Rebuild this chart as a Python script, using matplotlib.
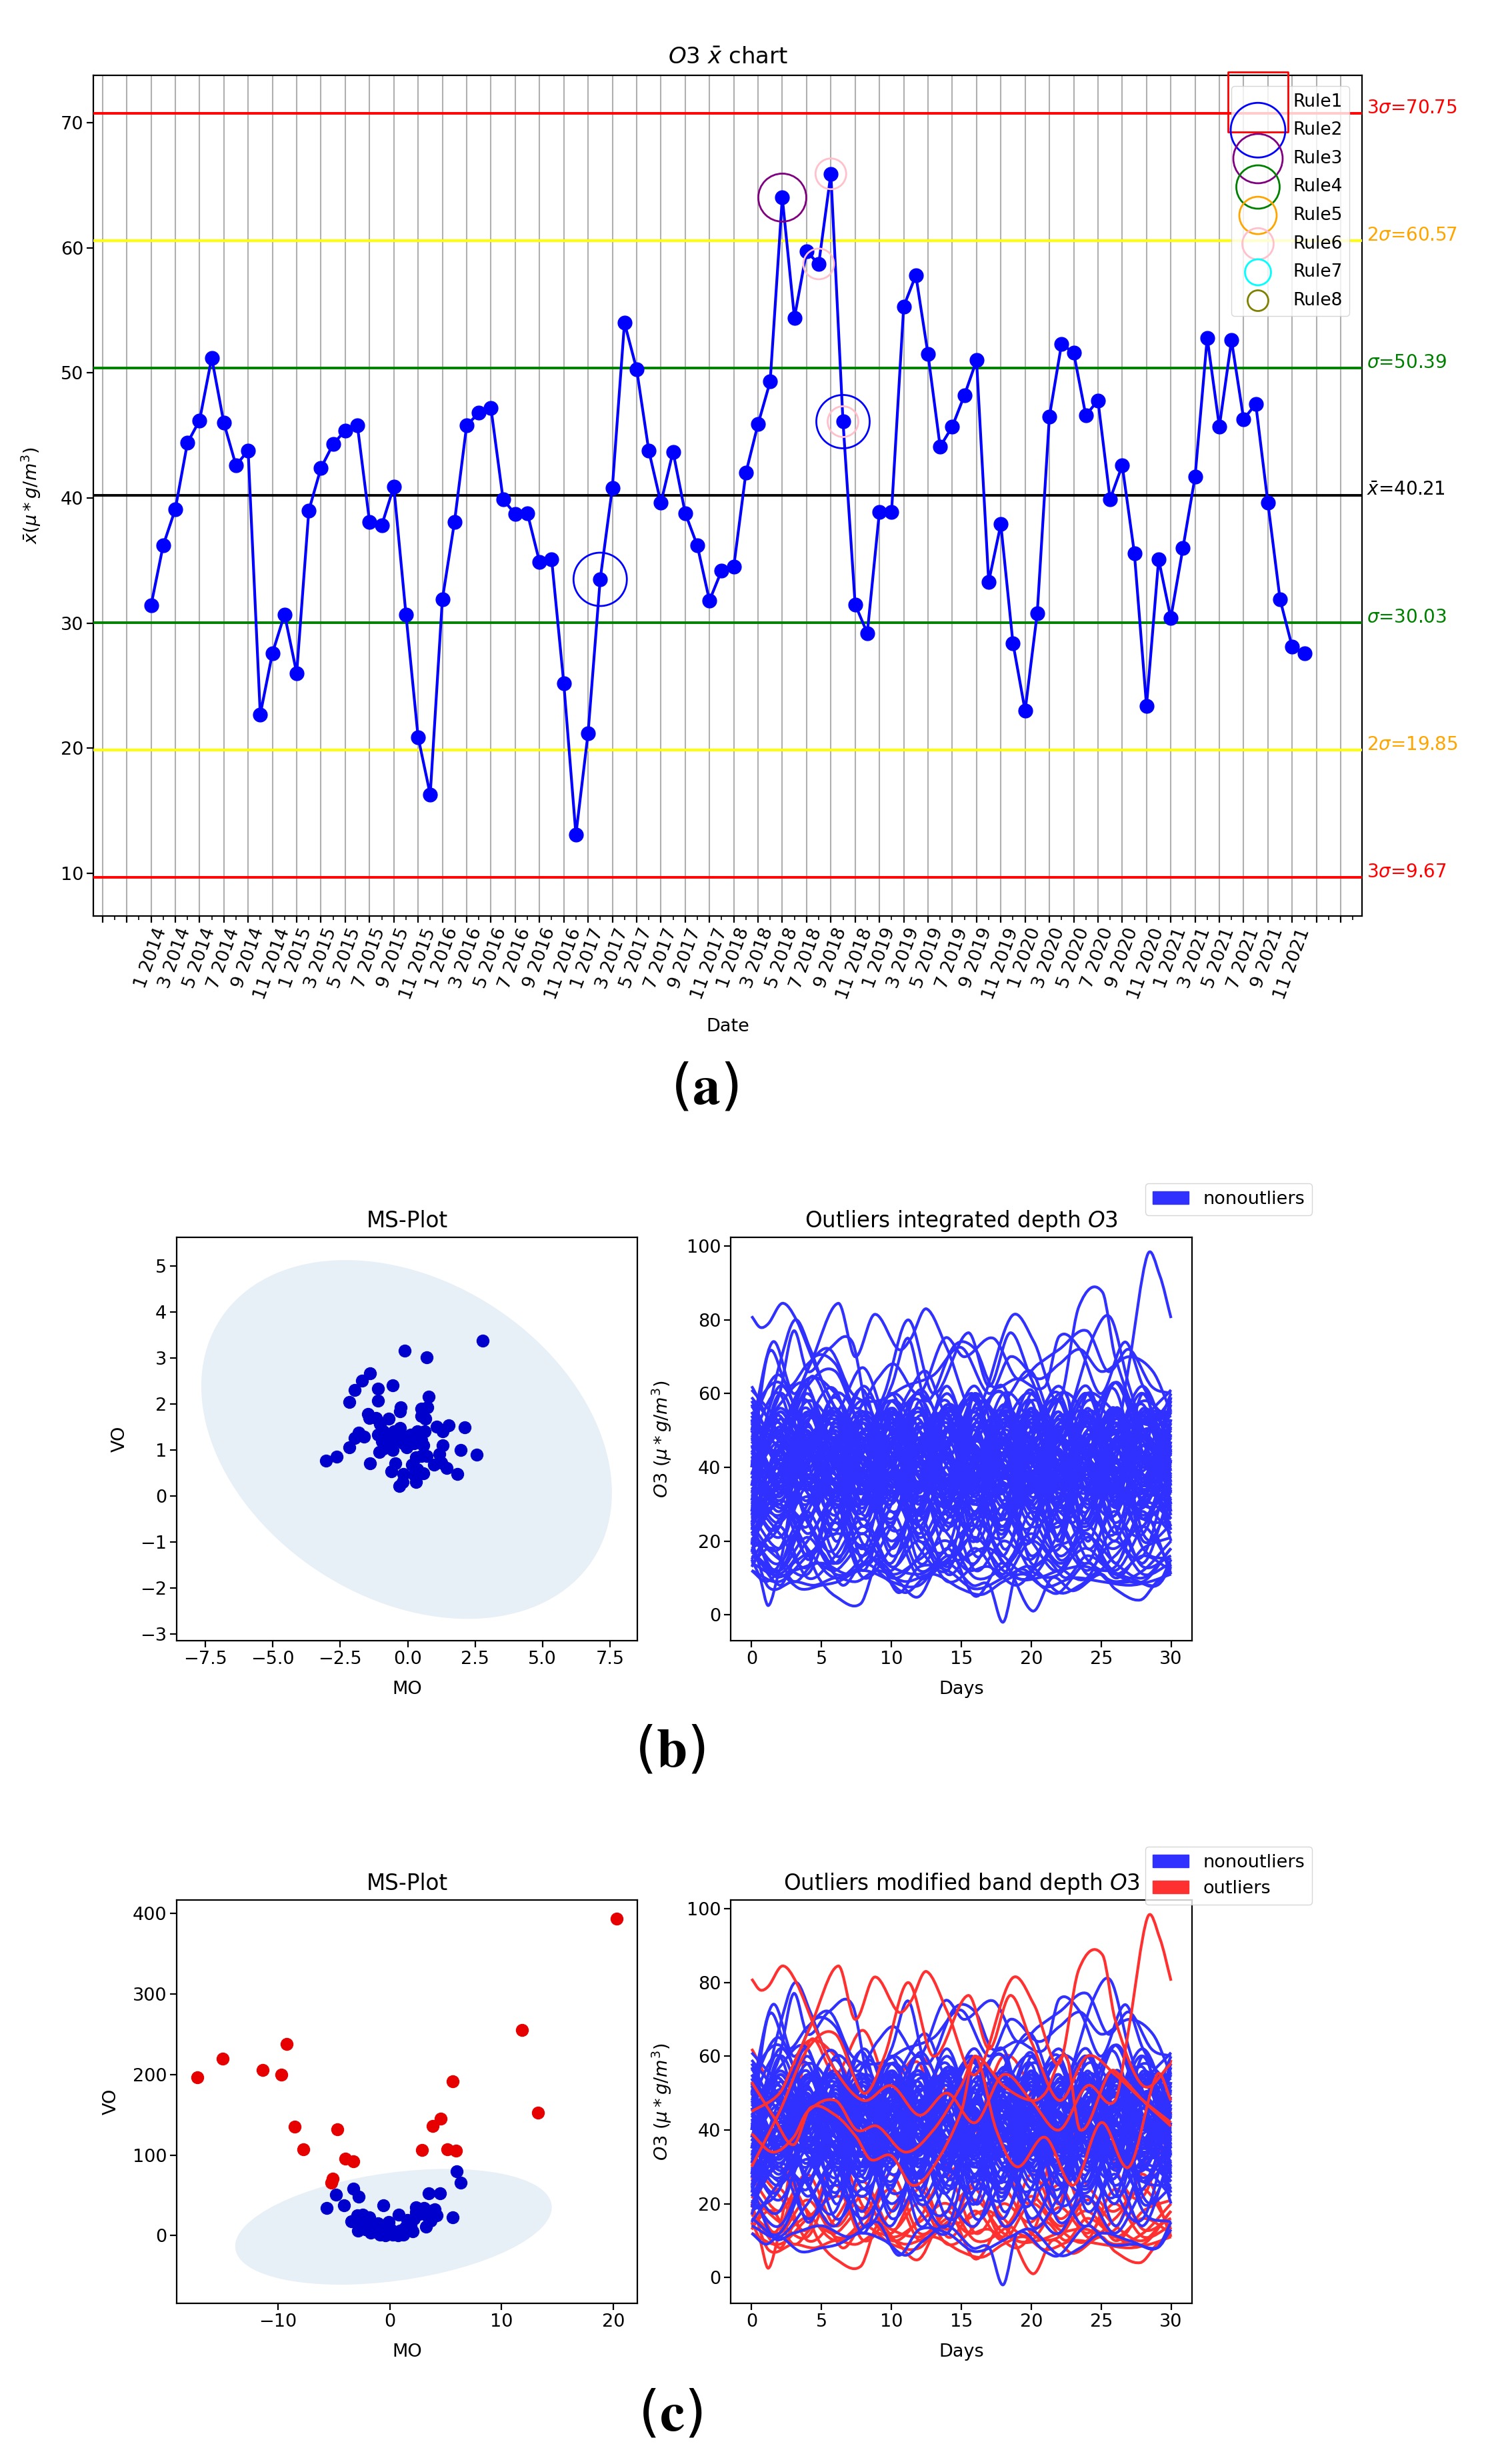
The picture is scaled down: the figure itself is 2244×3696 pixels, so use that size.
import matplotlib
matplotlib.use("Agg")
import matplotlib.pyplot as plt
from matplotlib.patches import Ellipse, Patch, PathPatch
from matplotlib.path import Path

W, H = 2244, 3696

# panel (a): monthly means
xbar_values = [31.4, 36.2, 39.1, 44.4, 46.2, 51.2, 46.0, 42.6, 43.8, 22.7, 27.6, 30.7,
               26.0, 39.0, 42.4, 44.3, 45.4, 45.8, 38.1, 37.8, 40.9, 30.7, 20.9, 16.3,
               31.9, 38.1, 45.8, 46.8, 47.2, 39.9, 38.7, 38.8, 34.9, 35.1, 25.2, 13.1,
               21.2, 33.5, 40.8, 54.0, 50.3, 43.8, 39.6, 43.7, 38.8, 36.2, 31.8, 34.2,
               34.5, 42.0, 45.9, 49.3, 64.0, 54.4, 59.7, 58.7, 65.9, 46.1, 31.5, 29.2,
               38.9, 38.9, 55.3, 57.8, 51.5, 44.1, 45.7, 48.2, 51.0, 33.3, 37.9, 28.4,
               23.0, 30.8, 46.5, 52.3, 51.6, 46.6, 47.8, 39.9, 42.6, 35.6, 23.4, 35.1,
               30.4, 36.0, 41.7, 52.8, 45.7, 52.6, 46.3, 47.5, 39.6, 31.9, 28.1, 27.6]
limit_values = [70.75, 60.57, 50.39, 40.21, 30.03, 19.85, 9.67]
limit_colors = ["red", "yellow", "green", "black", "green", "yellow", "red"]
limit_text = [r"3$\sigma$=70.75", r"2$\sigma$=60.57", r"$\sigma$=50.39", r"$\bar{x}$=40.21",
              r"$\sigma$=30.03", r"2$\sigma$=19.85", r"3$\sigma$=9.67"]
limit_text_colors = ["red", "orange", "green", "black", "green", "orange", "red"]
rule_names = ["Rule1", "Rule2", "Rule3", "Rule4", "Rule5", "Rule6", "Rule7", "Rule8"]
rule_colors = ["red", "blue", "purple", "green", "orange", "pink", "cyan", "olive"]
rule_sizes = [90, 82, 74, 65, 56, 47, 39, 31]
rule_hits = {1: [37, 57], 2: [52], 5: [55, 56, 57]}

# panel (b): MS-plot
ms_b_x = [2.79, -0.12, 0.70, -1.39, -1.69, -1.97, -1.10, -0.56, -1.11, -2.17, 0.79, -0.25, -0.29,
          0.51, 0.74, -1.46, -1.43, -1.17, -0.70, 0.51, 0.66, -1.03, 1.08, 1.53, 2.12, 1.31,
          -1.83, -1.63, -1.97, -2.17, -2.64, -3.04, -1.39, -1.06, 1.29, 1.96, 2.56, 1.85, 1.45,
          0.98, 1.18, 1.25, -0.46, -0.60, -0.32, -0.19, 0.31, -0.16, 0.58, 0.17, 0.37, 0.24,
          0.31, 0.71, 0.51, -1.10, -0.90, -0.70, -0.50, -0.29, -0.09, 0.11, 0.37, 0.64, -0.96,
          -0.76, -0.56, -0.36, -0.16, 0.04, 0.24, 0.51, 0.58, -0.56, -0.03, -0.90, 0.37]
ms_b_y = [3.39, 3.16, 3.02, 2.68, 2.51, 2.31, 2.34, 2.41, 2.08, 2.05, 2.16, 1.94, 1.85,
          1.91, 1.94, 1.79, 1.70, 1.70, 1.68, 1.75, 1.68, 1.57, 1.52, 1.54, 1.50, 1.41,
          1.38, 1.30, 1.26, 1.07, 0.86, 0.77, 0.72, 0.96, 1.11, 1.00, 0.91, 0.49, 0.62,
          0.68, 0.92, 0.73, 0.72, 0.54, 0.22, 0.31, 0.31, 0.49, 0.50, 0.69, 0.58, 0.47,
          0.85, 0.88, 0.88, 1.34, 1.41, 1.30, 1.41, 1.49, 1.30, 1.34, 1.41, 1.41, 1.19,
          1.15, 1.19, 1.22, 1.15, 1.22, 1.15, 1.22, 1.11, 1.00, 1.07, 1.03, 1.26]

# panel (c): MS-plot
ms_c_out_x = [-17.18, -14.95, -11.33, -9.69, -9.23, -8.52, -7.72, -4.68, -3.94, -3.23, -5.10,
              -5.23, 2.91, 3.87, 4.59, 5.17, 5.91, 5.62, 11.82, 13.24, 20.28]
ms_c_out_y = [196.8, 219.6, 205.3, 199.8, 237.4, 135.2, 107.3, 131.8, 95.9, 92.5, 70.5,
              65.9, 106.0, 136.4, 144.9, 107.3, 105.6, 191.8, 255.5, 152.9, 393.7]
ms_c_in_x = [6.01, 6.33, 3.49, 4.49, 5.62, -3.26, -2.78, -4.78, -4.07, -5.62, -0.55, 0.81, 2.36,
             3.07, 4.04, -3.45, -2.91, -2.42, -1.84, -2.81, -2.65, -2.16, -1.68, -1.03, -0.06,
             -1.36, -0.87, -0.39, -0.55, 0.26, 0.74, 1.23, 0.10, 0.90, 1.55, 1.39, 2.03, 2.20,
             2.36, 3.23, 3.65, 3.33, 4.20, 3.81, 1.87, -2.16, 2.68]
ms_c_in_y = [79.8, 65.5, 52.4, 52.4, 22.8, 58.3, 48.6, 51.1, 37.2, 34.2, 37.6, 26.2, 35.5,
             34.6, 32.5, 17.7, 24.9, 26.2, 22.8, 5.9, 14.4, 16.5, 3.8, 15.2, 16.9,
             8.0, 0.8, 0.5, 8.0, 0.8, 0.3, 0.8, 8.0, 5.9, 19.4, 10.1, 5.1, 20.7,
             29.1, 11.0, 18.6, 24.9, 24.9, 31.3, 12.2, 8.0, 27.0]

# functional curves, estimated by eye (day, value)
red_free = [
    ([0, 0.6, 1.2, 2.2, 3.2, 4.5, 6, 8, 10, 12, 14, 16, 18, 20, 22, 24, 26, 27, 28.3, 29.2, 30],
     [81, 78, 79, 84.5, 80, 68, 56, 48, 52, 44, 50, 42, 55, 48, 40, 52, 48, 68, 97.5, 92, 80.5]),
    ([0, 2, 3, 4.2, 6.2, 7.4, 8.8, 10.5, 11.4, 12.5, 14, 16, 18.6, 20.2, 22, 23.4, 25.1, 26, 28, 30],
     [45, 50, 58, 68, 84.5, 70, 81.5, 72, 75, 83, 72, 55, 81, 74, 58, 83.5, 87.5, 70, 52, 58]),
    ([0, 2, 4, 6, 8, 9.5, 11.2, 13, 15.5, 17, 18.5, 20, 22, 24, 26, 28, 30],
     [30, 45, 62, 66, 50, 60, 80, 60, 76.5, 62, 76.5, 64, 48, 60, 55, 48, 42]),
    ([0, 0.6, 1.2, 2, 3.2, 4.8, 6, 7.8, 9, 10.5, 12, 14, 16, 18, 20.1, 21.5, 23, 25, 26, 27.8, 29, 30],
     [15, 10, 2.5, 12, 22, 10, 5, 3, 14, 9, 5, 18, 5, 14, 1, 10, 6.5, 11, 7, 4, 9, 12]),
    ([0, 1.2, 3, 4.5, 6, 7.5, 9, 11, 13, 15, 16.5, 18, 19.5, 21, 23, 25, 27, 28.5, 30],
     [20, 7.5, 9, 8, 10, 9, 12, 9, 11, 7, 5.5, 9, 11, 7.5, 10, 9, 8, 9, 11]),
    ([0, 2, 3, 5, 6.5, 8, 10, 12, 14, 15.5, 17, 19, 21, 22.5, 24, 26, 28, 30],
     [18, 8, 14, 17, 8, 14, 9, 8, 16, 12, 13, 8, 15, 10, 16, 11, 9, 18]),
    ([0, 1.5, 3, 4.5, 6, 8, 10, 12, 13.5, 15, 17, 19, 20.5, 22, 24, 26, 28, 30],
     [14, 18, 9, 14, 12, 19, 13, 11, 14, 15, 18, 10, 10, 12, 13, 9, 12, 20]),
    ([0, 1.5, 3, 4, 6, 7.5, 9, 11, 13, 15, 16, 18, 20, 21, 22.5, 23.5, 25.5, 26, 28, 30],
     [39, 34, 38, 45, 48, 40, 41, 34, 40, 52, 60, 52, 48, 50, 60, 40, 55, 56, 48, 41]),
    ([0, 1.5, 3, 4.2, 6, 7.5, 8.5, 10, 11.5, 13, 15, 16, 17.5, 19, 21, 23, 25, 27, 29, 30],
     [53, 44, 36, 46, 44, 38, 32, 33, 25, 30, 45, 60, 40, 30, 38, 25, 42, 30, 55, 48]),
]
blue_free = [
    ([0, 1, 2, 3.1, 4.2, 5.2, 7, 9, 11.2, 12.5, 14, 15.8, 17, 18.5, 20, 22, 24.5, 25.7, 27, 28.5, 30],
     [35, 52, 68, 80, 72, 62, 50, 44, 60, 66, 54, 60, 50, 60, 66, 50, 76, 80.5, 62, 46, 40]),
    ([0, 1, 2, 3, 4, 5.5, 7.2, 8.5, 10, 11.2, 12.5, 14.5, 16, 17.2, 19, 21, 22, 23.5, 25, 26.7, 28, 30],
     [28, 50, 60, 77, 66, 72, 74, 52, 62, 75, 58, 73, 72, 62, 64, 62, 75.5, 72, 60, 74, 62, 50]),
    ([0, 1.5, 3, 4.5, 6, 7.5, 9, 10.2, 12, 13.8, 15.2, 17.3, 19, 20.5, 22, 24, 25.5, 27, 28.6, 30],
     [50, 74, 60, 70, 68, 56, 64, 68, 60, 75, 70, 75, 64, 68, 72, 77, 66, 72, 62, 60]),
    ([0, 1.2, 2.6, 4, 5.6, 7.2, 9, 11, 13, 15, 17, 18.5, 20.5, 22, 23.5, 25, 27, 28.7, 30],
     [40, 71, 62, 68, 72, 60, 58, 62, 65, 72.5, 60, 70, 64, 68, 72, 66, 70, 66, 55]),
    ([0, 1, 2, 3.5, 5, 6.2, 7.8, 9.5, 11, 12.3, 14, 15.8, 17, 18, 19, 21, 22, 24, 25.6, 27.5, 29, 30],
     [12, 9, 11, 7, 8, 9, 12, 10, 6, 10, 14, 8, 8, -2, 12, 7, 6, 14, 9, 9, 8, 15]),
    ([0, 1.5, 3, 5, 7, 9, 10.5, 12, 14, 16, 18.5, 20, 22, 23.5, 25, 27, 29, 30],
     [25, 11, 12, 14, 11, 15, 6, 13, 12, 7, 11, 13, 6, 8, 12, 10, 8, 13]),
]
grid_days = [0, 2, 4, 6, 8, 10, 12, 14, 16, 18, 20, 22, 24, 26, 28, 30]
red_grid = [
    [12, 9, 16, 22, 18, 11, 15, 20, 10, 13, 22, 14, 18, 11, 16, 12],
    [17, 12, 21, 11, 14, 24, 10, 15, 21, 12, 10, 19, 12, 20, 11, 14],
    [13, 24, 10, 16, 26, 13, 20, 9, 14, 24, 12, 11, 21, 14, 10, 18],
    [22, 15, 11, 25, 10, 18, 27, 11, 18, 10, 20, 13, 10, 24, 13, 16],
    [27, 18, 28, 14, 22, 10, 16, 28, 12, 20, 15, 25, 11, 16, 24, 13],
    [20, 30, 18, 10, 16, 28, 12, 18, 24, 11, 28, 16, 22, 10, 18, 21],
    [31, 22, 13, 34, 19, 12, 24, 13, 26, 16, 12, 30, 15, 13, 28, 11],
    [62, 50, 64, 60, 48, 52, 60, 50, 40, 30, 20, 35, 25, 18, 30, 59],
    [24, 14, 63, 55, 67, 50, 58, 30, 40, 60, 50, 20, 60, 30, 22, 45],
]
blue_grid = [
    [61, 52, 40, 50, 36, 46, 56, 40, 33, 47, 55, 41, 35, 50, 43, 60],
    [58, 46, 60, 43, 33, 52, 38, 57, 46, 29, 44, 58, 41, 33, 52, 61],
    [56, 63, 49, 35, 47, 58, 43, 29, 52, 60, 39, 32, 55, 46, 37, 58],
    [54, 39, 30, 46, 58, 41, 27, 50, 58, 37, 50, 60, 35, 27, 48, 56],
    [52, 65, 45, 29, 44, 60, 50, 31, 40, 57, 45, 29, 42, 63, 50, 54],
    [50, 33, 44, 59, 40, 26, 46, 58, 35, 44, 61, 37, 25, 48, 58, 52],
    [48, 60, 36, 47, 61, 34, 44, 60, 42, 27, 47, 62, 44, 30, 55, 48],
    [46, 30, 52, 61, 35, 45, 60, 33, 48, 62, 34, 46, 60, 38, 29, 46],
    [44, 57, 62, 38, 28, 55, 35, 47, 62, 41, 30, 54, 33, 47, 62, 44],
    [42, 28, 46, 55, 47, 30, 58, 40, 27, 50, 60, 43, 28, 56, 41, 42],
    [40, 54, 33, 26, 58, 49, 28, 55, 44, 33, 56, 28, 50, 61, 33, 40],
    [38, 62, 47, 31, 40, 60, 37, 28, 57, 50, 36, 48, 62, 39, 26, 38],
    [36, 44, 58, 49, 27, 39, 61, 46, 30, 38, 58, 48, 29, 44, 60, 36],
    [34, 25, 40, 60, 50, 33, 42, 62, 38, 24, 44, 60, 53, 30, 42, 34],
    [33, 50, 27, 42, 62, 44, 24, 46, 60, 47, 26, 40, 58, 50, 30, 33],
    [31, 60, 41, 25, 37, 58, 47, 31, 24, 55, 42, 30, 46, 63, 44, 31],
    [30, 24, 55, 40, 26, 48, 30, 56, 43, 26, 60, 35, 24, 42, 57, 30],
    [28, 42, 62, 30, 45, 24, 52, 36, 59, 33, 24, 52, 44, 27, 60, 28],
    [27, 55, 36, 22, 50, 42, 22, 44, 28, 50, 38, 22, 60, 36, 24, 47],
    [26, 34, 24, 48, 30, 56, 37, 23, 49, 60, 30, 45, 26, 54, 38, 26],
    [25, 48, 58, 34, 22, 38, 56, 27, 36, 22, 48, 58, 32, 22, 46, 35],
    [24, 18, 42, 56, 36, 20, 34, 52, 24, 42, 58, 26, 40, 55, 22, 24],
    [23, 45, 26, 18, 46, 54, 24, 18, 44, 30, 20, 52, 36, 20, 40, 23],
    [22, 36, 52, 28, 16, 30, 48, 36, 20, 48, 28, 18, 46, 32, 52, 38],
    [21, 14, 30, 44, 24, 42, 20, 30, 50, 18, 36, 50, 20, 42, 26, 44],
    [20, 30, 16, 26, 42, 18, 36, 46, 20, 34, 16, 30, 52, 24, 16, 42],
    [19, 42, 25, 14, 32, 46, 24, 14, 38, 24, 44, 20, 28, 46, 20, 30],
    [18, 24, 46, 20, 36, 16, 28, 42, 16, 28, 46, 26, 14, 34, 44, 20],
    [17, 38, 15, 30, 18, 40, 14, 26, 34, 14, 24, 40, 18, 28, 14, 34],
    [16, 12, 28, 38, 14, 24, 36, 16, 24, 40, 14, 22, 34, 14, 30, 26],
    [15, 26, 36, 16, 24, 14, 32, 22, 14, 30, 20, 12, 28, 38, 18, 15],
    [14, 11, 20, 30, 12, 32, 18, 12, 28, 16, 34, 15, 22, 12, 24, 32],
    [47, 37, 48, 53, 42, 35, 50, 54, 38, 46, 52, 36, 48, 54, 40, 50],
    [45, 52, 37, 44, 54, 40, 36, 47, 53, 39, 37, 51, 42, 36, 52, 45],
    [43, 36, 51, 38, 47, 55, 42, 37, 49, 54, 41, 38, 53, 46, 35, 41],
    [49, 43, 35, 52, 39, 46, 53, 34, 41, 51, 46, 35, 47, 52, 37, 48],
    [41, 50, 45, 34, 52, 37, 48, 43, 35, 53, 39, 49, 36, 44, 54, 43],
    [39, 33, 53, 46, 36, 51, 34, 50, 45, 37, 52, 44, 34, 51, 42, 37],
    [37, 47, 39, 55, 43, 33, 45, 52, 37, 42, 35, 54, 46, 38, 48, 39],
    [35, 53, 43, 37, 50, 44, 38, 33, 54, 45, 48, 36, 52, 43, 33, 35],
    [32, 41, 34, 51, 35, 53, 41, 48, 32, 52, 43, 33, 41, 55, 38, 29],
    [29, 38, 50, 33, 48, 31, 52, 35, 46, 31, 50, 42, 54, 34, 46, 27],
    [44, 32, 48, 41, 31, 47, 33, 51, 41, 36, 33, 47, 38, 49, 35, 51],
    [51, 45, 31, 53, 46, 38, 51, 42, 31, 44, 54, 34, 49, 33, 50, 46],
    [53, 35, 49, 42, 33, 52, 43, 36, 47, 55, 32, 44, 37, 52, 43, 49],
    [55, 47, 38, 33, 53, 36, 31, 46, 50, 35, 45, 53, 43, 35, 31, 53],
    [57, 41, 54, 47, 38, 49, 40, 33, 43, 49, 37, 31, 50, 41, 54, 55],
    [59, 49, 35, 41, 52, 32, 47, 53, 34, 42, 51, 39, 33, 45, 36, 57],
    [26, 33, 44, 36, 29, 41, 27, 38, 30, 44, 28, 36, 41, 29, 38, 24],
    [33, 27, 38, 32, 43, 28, 35, 30, 41, 26, 34, 42, 30, 37, 27, 36],
    [22, 31, 26, 40, 24, 34, 41, 25, 33, 38, 24, 30, 37, 25, 34, 28],
    [30, 21, 35, 27, 39, 23, 29, 40, 27, 21, 39, 25, 32, 40, 31, 22],
    [24, 35, 22, 33, 26, 38, 21, 32, 26, 35, 30, 24, 40, 22, 32, 31],
    [36, 26, 32, 23, 34, 25, 39, 24, 31, 23, 36, 28, 23, 35, 26, 25],
    [46, 40, 55, 38, 50, 42, 34, 55, 44, 39, 56, 43, 37, 53, 47, 38],
    [38, 55, 42, 49, 34, 54, 45, 37, 52, 43, 33, 50, 55, 40, 35, 52],
    [52, 36, 46, 56, 42, 37, 54, 44, 36, 56, 47, 39, 45, 34, 55, 41],
    [42, 48, 34, 40, 55, 46, 32, 41, 55, 35, 42, 55, 36, 48, 44, 34],
    [34, 44, 56, 35, 44, 50, 36, 56, 40, 48, 31, 46, 52, 38, 56, 44],
    [48, 34, 41, 54, 33, 43, 55, 38, 48, 33, 53, 35, 44, 56, 34, 49],
    [35, 49, 36, 45, 55, 32, 48, 35, 56, 41, 38, 55, 33, 47, 39, 55],
    [55, 42, 52, 32, 46, 40, 35, 50, 33, 52, 44, 32, 56, 37, 50, 33],
    [40, 56, 44, 36, 31, 55, 42, 31, 47, 38, 54, 40, 35, 55, 41, 47],
    [32, 39, 54, 44, 37, 47, 56, 43, 34, 55, 36, 48, 40, 33, 53, 39],
    [47, 54, 33, 37, 49, 35, 41, 57, 42, 34, 46, 37, 54, 42, 33, 53],
    [43, 31, 45, 52, 41, 56, 37, 45, 55, 40, 33, 52, 39, 31, 49, 37],
    [37, 51, 40, 31, 54, 44, 50, 33, 38, 53, 41, 34, 47, 52, 36, 44],
    [50, 38, 54, 42, 35, 39, 46, 55, 32, 37, 55, 44, 31, 46, 54, 35],
    [28, 36, 47, 55, 38, 30, 44, 34, 51, 30, 40, 53, 42, 36, 30, 46],
    [41, 29, 37, 48, 30, 41, 53, 29, 37, 47, 29, 38, 51, 30, 44, 30],
]

BLUE_LINE = "#3030ff"
RED_LINE = "#ff3030"
FILL = "#e7eff7"

plt.rcParams["font.size"] = 19.5
plt.rcParams["axes.linewidth"] = 1.6
plt.rcParams["xtick.major.width"] = 1.6
plt.rcParams["ytick.major.width"] = 1.6
plt.rcParams["xtick.major.size"] = 7
plt.rcParams["ytick.major.size"] = 7

fig = plt.figure(figsize=(W / 100, H / 100), dpi=100)


def make_axes(left, top, right, bottom):
    return fig.add_axes([left / W, 1 - bottom / H, (right - left) / W, (bottom - top) / H])


def px_size(d):
    return (d * 0.72) ** 2


def draw_curve(ax, days, vals, color):
    # smooth bezier through the read points
    n = len(days)
    slopes = []
    for i in range(n):
        a, b = max(i - 1, 0), min(i + 1, n - 1)
        slopes.append((vals[b] - vals[a]) / (days[b] - days[a]))
    verts = [(days[0], vals[0])]
    codes = [Path.MOVETO]
    for i in range(n - 1):
        dt = (days[i + 1] - days[i]) / 3
        verts += [(days[i] + dt, vals[i] + slopes[i] * dt),
                  (days[i + 1] - dt, vals[i + 1] - slopes[i + 1] * dt),
                  (days[i + 1], vals[i + 1])]
        codes += [Path.CURVE4] * 3
    ax.add_patch(PathPatch(Path(verts, codes), fill=False, edgecolor=color, lw=3.0))


def panel_label(letter, x, y):
    fig.text(x / W, 1 - y / H, "($\\mathbf{" + letter + "}$)", fontsize=60, ha="center", va="center",
             math_fontfamily="stix", color="black")


# ---- panel a ----
ax = make_axes(140, 113, 2043, 1374)
idx = list(range(len(xbar_values)))
ax.set_xlim(-4.75, 99.75)
ax.set_ylim(6.6, 73.77)
ax.plot(idx, xbar_values, color="blue", lw=3, marker="o", ms=15, zorder=4)
for val, col in zip(limit_values, limit_colors):
    ax.axhline(val, color=col, lw=2.8, zorder=3)
for val, txt, col in zip(limit_values, limit_text, limit_text_colors):
    ax.text(100.15, val, txt, color=col, fontsize=20, clip_on=False)
for rule, hits in rule_hits.items():
    size = {1: 80, 2: 72, 5: 46}[rule]
    ax.scatter([idx[i] for i in hits], [xbar_values[i] for i in hits], s=px_size(size),
               facecolors="none", edgecolors=rule_colors[rule], linewidths=2, zorder=5)
for i, (name, col, size) in enumerate(zip(rule_names, rule_colors, rule_sizes)):
    ax.scatter([], [], s=px_size(size), marker="s" if i == 0 else "o",
               facecolors="none", edgecolors=col, linewidths=2, label=name)
month_labels = [f"{m} {y}" for y in range(2014, 2022) for m in range(1, 12, 2)]
ticks = list(range(-4, 99, 2))
ax.set_xticks(ticks)
ax.set_xticklabels(["" if t < 0 or t > 94 else month_labels[t // 2] for t in ticks],
                   rotation=70, fontsize=19.5)
ax.set_xticks(list(range(-4, 100)), minor=True)
ax.tick_params(axis="x", which="minor", length=4, width=1.2)
ax.set_yticks([10, 20, 30, 40, 50, 60, 70])
ax.tick_params(axis="y", labelsize=19.5)
ax.grid(axis="x", which="major", color="#b0b0b0", lw=1.5)
ax.set_axisbelow(True)
ax.set_title(r"$O3\ \bar{x}$ chart", fontsize=24.5, pad=13)
ax.set_xlabel("Date", fontsize=19.5)
ax.xaxis.set_label_coords(0.5, -0.121)
ax.set_ylabel(r"$\bar{x}(\mu*g/m^3)$", fontsize=19.5)
ax.yaxis.set_label_coords(-0.04, 0.5)
ax.legend(loc="upper left", bbox_to_anchor=(1847 / W, 1 - 129 / H), bbox_transform=fig.transFigure,
          borderaxespad=0, fontsize=19, scatterpoints=1, borderpad=0.4, handlelength=2.23,
          handletextpad=0.86, labelspacing=0.63)
panel_label("a", 1057, 1632)

# ---- panel b ----
ax = make_axes(265, 1856, 956, 2461)
ax.add_patch(Ellipse((-0.04, 1.235), 15.46, 7.34, angle=-11.2, facecolor=FILL, edgecolor="none"))
ax.scatter(ms_b_x, ms_b_y, s=px_size(18), color="mediumblue", zorder=3)
ax.set_xlim(-8.57, 8.52)
ax.set_ylim(-3.14, 5.63)
ax.set_xticks([-7.5, -5, -2.5, 0, 2.5, 5, 7.5])
ax.set_yticks(list(range(-3, 6)))
ax.set_title("MS-Plot", fontsize=23.5, pad=11)
ax.set_xlabel("MO")
ax.xaxis.set_label_coords(0.5, -0.099)
ax.set_ylabel("VO")
ax.yaxis.set_label_coords(-0.105, 0.5)

ax = make_axes(1096, 1856, 1788, 2461)
for days, vals in red_free + blue_free:
    draw_curve(ax, days, vals, BLUE_LINE)
for vals in red_grid + blue_grid:
    draw_curve(ax, grid_days, vals, BLUE_LINE)
ax.set_xlim(-1.5, 31.5)
ax.set_ylim(-7.04, 102.4)
ax.set_xticks([0, 5, 10, 15, 20, 25, 30])
ax.set_title(r"Outliers integrated depth $O3$", fontsize=23.5, pad=11)
ax.set_xlabel("Days")
ax.xaxis.set_label_coords(0.5, -0.099)
ax.set_ylabel(r"$O3\ (\mu*g/m^3)$")
ax.yaxis.set_label_coords(-0.125, 0.5)
fig.legend(handles=[Patch(color=BLUE_LINE, label="nonoutliers")], loc="upper left",
           bbox_to_anchor=(1718 / W, 1 - 1775 / H), bbox_transform=fig.transFigure, borderaxespad=0,
           fontsize=19.5)
panel_label("b", 1005, 2626)

# ---- panel c ----
ax = make_axes(265, 2850, 956, 3455)
ax.add_patch(Ellipse((0.34, 11), 143.9, 26.6, angle=86.07, facecolor=FILL, edgecolor="none"))
ax.scatter(ms_c_in_x, ms_c_in_y, s=px_size(18), color="mediumblue", zorder=3)
ax.scatter(ms_c_out_x, ms_c_out_y, s=px_size(18), color="#e60000", zorder=3)
ax.set_xlim(-19.05, 22.15)
ax.set_ylim(-84, 416.5)
ax.set_xticks([-10, 0, 10, 20])
ax.set_yticks([0, 100, 200, 300, 400])
ax.set_title("MS-Plot", fontsize=23.5, pad=11)
ax.set_xlabel("MO")
ax.xaxis.set_label_coords(0.5, -0.099)
ax.set_ylabel("VO")
ax.yaxis.set_label_coords(-0.123, 0.5)

ax = make_axes(1096, 2850, 1788, 3455)
for vals in red_grid:
    draw_curve(ax, grid_days, vals, RED_LINE)
for days, vals in red_free[3:7]:
    draw_curve(ax, days, vals, RED_LINE)
for vals in blue_grid:
    draw_curve(ax, grid_days, vals, BLUE_LINE)
for days, vals in blue_free:
    draw_curve(ax, days, vals, BLUE_LINE)
for days, vals in red_free[:3] + red_free[7:]:
    draw_curve(ax, days, vals, RED_LINE)
ax.set_xlim(-1.5, 31.5)
ax.set_ylim(-7.04, 102.4)
ax.set_xticks([0, 5, 10, 15, 20, 25, 30])
ax.set_title(r"Outliers modified band depth $O3$", fontsize=23.5, pad=11)
ax.set_xlabel("Days")
ax.xaxis.set_label_coords(0.5, -0.099)
ax.set_ylabel(r"$O3\ (\mu*g/m^3)$")
ax.yaxis.set_label_coords(-0.125, 0.5)
fig.legend(handles=[Patch(color=BLUE_LINE, label="nonoutliers"), Patch(color=RED_LINE, label="outliers")],
           loc="upper left", bbox_to_anchor=(1718 / W, 1 - 2770 / H), bbox_transform=fig.transFigure,
           borderaxespad=0, fontsize=19.5)
panel_label("c", 1005, 3622)

fig.savefig("out.png", dpi=100)
